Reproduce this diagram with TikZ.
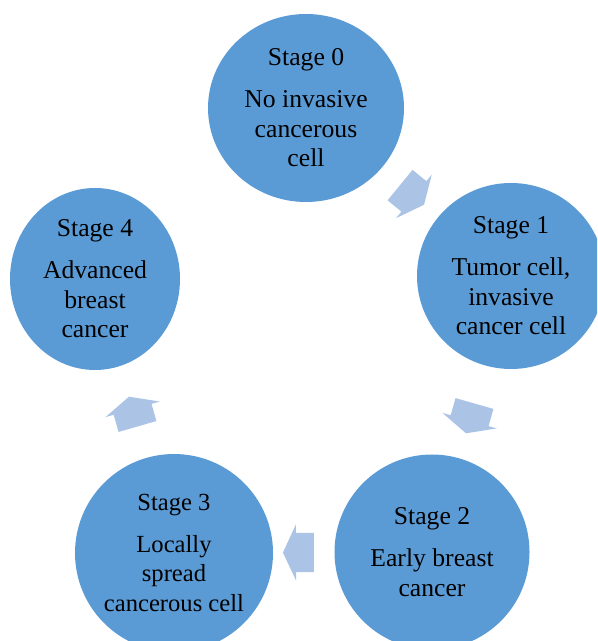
\documentclass[tikz,border=0pt]{standalone}
\usepackage{fontspec}
\setmainfont{Liberation Serif}
\usetikzlibrary{shapes.geometric,shapes.arrows}
\definecolor{stageblue}{RGB}{91,155,213}
\definecolor{arrowblue}{RGB}{171,196,230}
\begin{document}
\begin{tikzpicture}[x=0.1mm, y=-0.1mm,
		stage/.style={ellipse, fill=stageblue, inner sep=0pt, align=center, font=\fontsize{7.3}{8.4}\selectfont},
		cyclearrow/.style={single arrow, fill=arrowblue, inner xsep=0pt, inner ysep=1.9mm, minimum height=3.1mm, minimum width=5.5mm, single arrow head extend=0.85mm, single arrow tip angle=130, sloped, allow upside down}]
		\useasboundingbox (0,0) rectangle (597,641);
		\clip (0,0) rectangle (597,641);
		
		\node[stage, minimum width=19.6mm, minimum height=18.8mm] (s0) at (306,108){Stage 0\\[3.5pt]No invasive\\cancerous\\cell};
		\node[stage, minimum width=18.8mm, minimum height=18.6mm] (s1) at (511,276){Stage 1\\[3.5pt]Tumor cell,\\invasive\\cancer cell};
		\node[stage, minimum width=19.5mm, minimum height=19.5mm] (s2) at (432,552){Stage 2\\[3.5pt]Early breast\\cancer};
		\node[stage, minimum width=19.8mm, minimum height=19.8mm, font=\fontsize{7}{8.4}\selectfont] (s3) at (174,553){Stage 3\\[3.5pt]Locally\\spread\\cancerous cell};
		\node[stage, minimum width=17mm, minimum height=18.2mm] (s4) at (95,279){Stage 4\\[3.5pt]Advanced\\breast\\cancer};
		
		\path (s0.center) -- node[cyclearrow]{} (s1.center);
		\path (s1.center) -- node[cyclearrow]{} (s2.center);
		\path (s2.center) -- node[cyclearrow]{} (s3.center);
		\path (s3.center) -- node[cyclearrow]{} (s4.center);
	\end{tikzpicture}
\end{document}
